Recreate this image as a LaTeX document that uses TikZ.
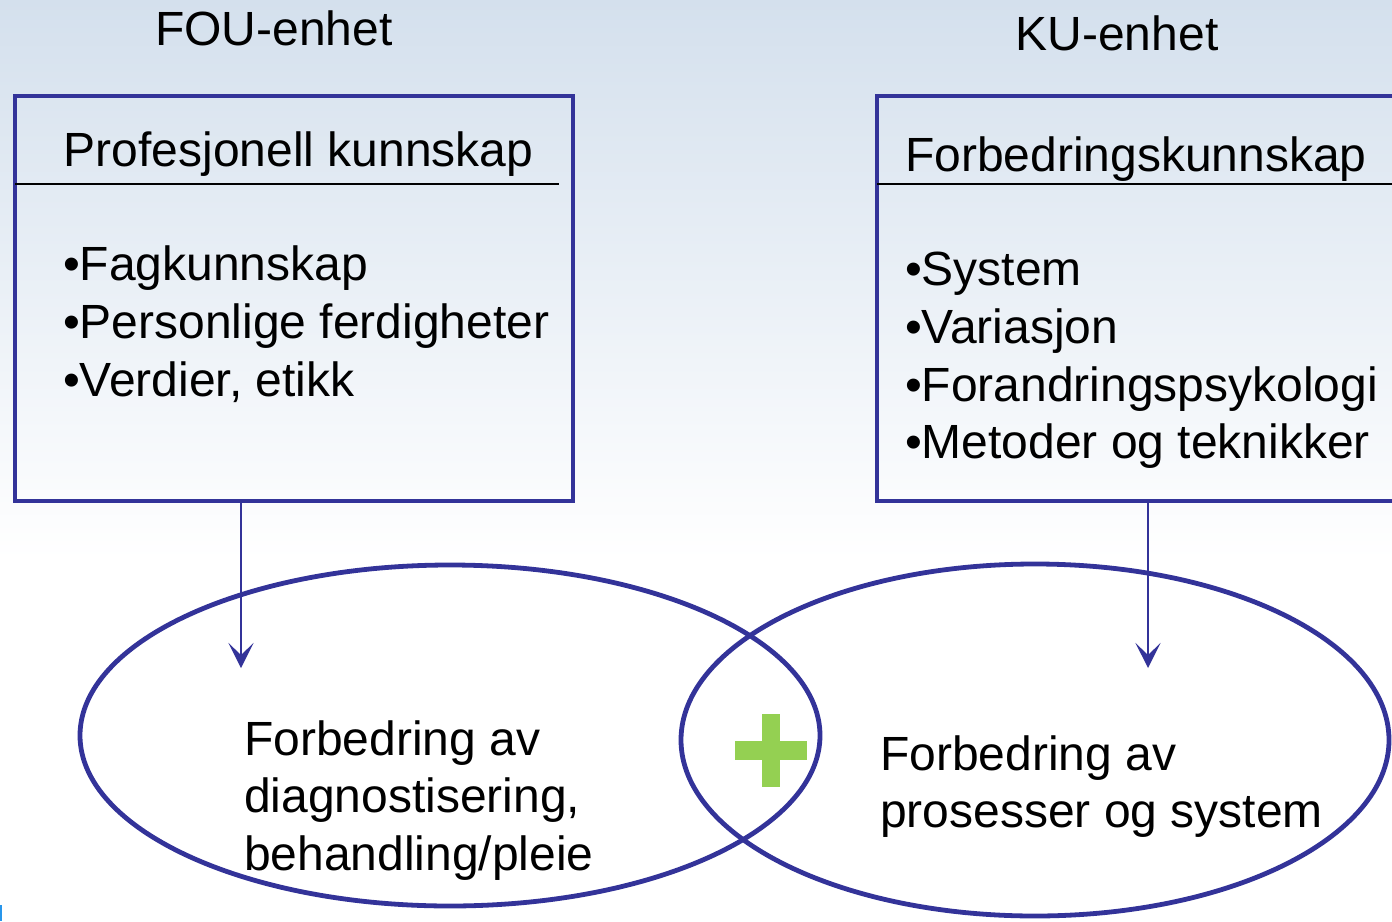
\documentclass[tikz,border=0pt]{standalone}
\usepackage{fontspec}
\setmainfont{Liberation Sans}
\usetikzlibrary{arrows.meta,shapes.geometric}
\definecolor{frame}{RGB}{51,51,153}
\definecolor{plusgreen}{RGB}{148,208,82}
\definecolor{bgtop}{RGB}{212,224,237}
\definecolor{markblue}{RGB}{40,150,235}
\begin{document}
\begin{tikzpicture}[x=0.5pt,y=-0.5pt,
  txt/.style={inner sep=0pt, outer sep=0pt, text=black, font=\fontsize{24}{28.75}\selectfont},
  boxstyle/.style={draw=frame, line width=2pt, rectangle, inner sep=0pt},
  rule/.style={draw=black, line width=1pt},
  ell/.style={draw=frame, line width=2.4pt, ellipse, inner sep=0pt},
  arr/.style={draw=frame, line width=1pt, -{Stealth[length=12.5pt, width=12.5pt, inset=6pt]}}
]
\useasboundingbox (0,0) rectangle (1392,921);
% background
\begin{scope}[y=0.5pt]
  \shade[top color=bgtop, bottom color=white] (0,-560) rectangle (1392,0);
\end{scope}
\fill[white] (0,559) rectangle (1392,921);
\fill[markblue] (0,905) rectangle (2,921);

% titles
\node[txt, anchor=base] (fou) at (274,46) {FOU-enhet};
\node[txt, anchor=base] (ku) at (1117,50) {KU-enhet};

% boxes
\node[boxstyle, minimum width=279pt, minimum height=202.5pt] (lbox) at (294,298.5) {};
\node[boxstyle, minimum width=262pt, minimum height=202.5pt] (rbox) at (1139,298.5) {};
\draw[rule] (15,184) -- (559,184);
\draw[rule] (877,184) -- (1392,184);

% headers
\node[txt, anchor=base] (lhead) at (298.5,166) {Profesjonell kunnskap};
\node[txt, anchor=base west] (rhead) at (905,171) {Forbedringskunnskap};

% left bullets
\node[txt, anchor=base west] (l1) at (63,280) {•Fagkunnskap};
\node[txt, anchor=base west] (l2) at (63,338) {•Personlige ferdigheter};
\node[txt, anchor=base west] (l3) at (63,396) {•Verdier, etikk};

% right bullets
\node[txt, anchor=base west] (r1) at (905,285) {•System};
\node[txt, anchor=base west] (r2) at (905,343) {•Variasjon};
\node[txt, anchor=base west] (r3) at (905,401) {•Forandringspsykologi};
\node[txt, anchor=base west] (r4) at (905,458) {•Metoder og teknikker};

% ellipses
\node[ell, minimum width=370pt, minimum height=170.5pt] (lell) at (450,735.5) {};
\node[ell, minimum width=354pt, minimum height=176pt] (rell) at (1035,740) {};

% arrows
\coordinate (la) at (241,668);
\coordinate (ra) at (1148,668);
\draw[arr] (lbox.south -| la) -- (la);
\draw[arr] (rbox.south -| ra) -- (ra);

% plus sign
\fill[plusgreen] (735,741) rectangle (807,759.5);
\fill[plusgreen] (762,714) rectangle (780.3,787);

% ellipse texts
\node[txt, anchor=base west] (e1) at (244,755) {Forbedring av};
\node[txt, anchor=base west] (e2) at (244,812) {diagnostisering,};
\node[txt, anchor=base west] (e3) at (244,870) {behandling/pleie};
\node[txt, anchor=base west] (f1) at (880,770) {Forbedring av};
\node[txt, anchor=base west] (f2) at (880,827) {prosesser og system};
\end{tikzpicture}
\end{document}
